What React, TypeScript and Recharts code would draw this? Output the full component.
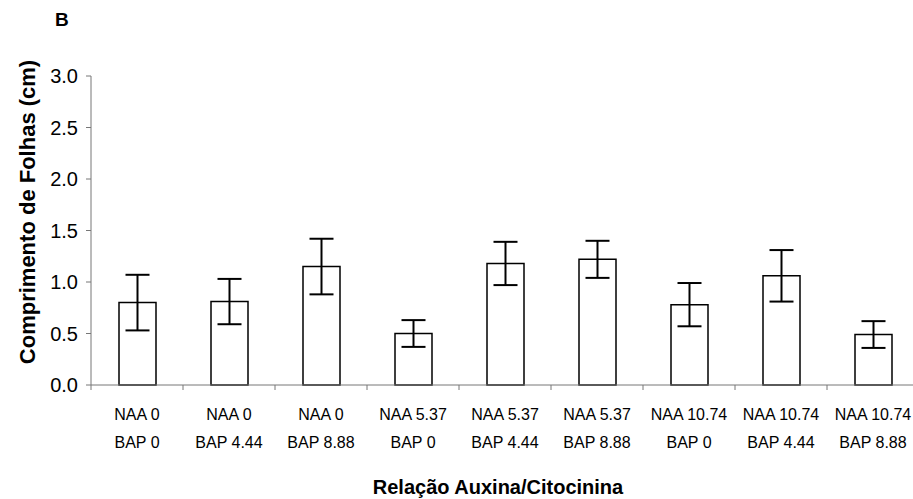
import React from "react";
import { BarChart, Bar, XAxis, YAxis, ErrorBar, Label } from "recharts";

const naaLevels = ["NAA 0", "NAA 0", "NAA 0", "NAA 5.37", "NAA 5.37", "NAA 5.37", "NAA 10.74", "NAA 10.74", "NAA 10.74"];
const bapLevels = ["BAP 0", "BAP 4.44", "BAP 8.88", "BAP 0", "BAP 4.44", "BAP 8.88", "BAP 0", "BAP 4.44", "BAP 8.88"];
const leafLength = [0.8, 0.81, 1.15, 0.5, 1.18, 1.22, 0.78, 1.06, 0.49];
const leafError = [0.27, 0.22, 0.27, 0.13, 0.21, 0.18, 0.21, 0.25, 0.13];
const yTicks = [0, 0.5, 1, 1.5, 2, 2.5, 3];

const data = naaLevels.map((naa, i) => ({
  name: `${naa}|${bapLevels[i]}`,
  value: leafLength[i],
  err: leafError[i],
}));

const FONT = "'Liberation Sans', Arial, Helvetica, sans-serif";
const AXIS = "#777";

const CategoryTick = (props: any) => {
  const { x, y, payload, index, width, visibleTicksCount } = props;
  const band = width && visibleTicksCount ? width / visibleTicksCount : 92;
  const [l1, l2] = String(payload.value).split("|");
  return (
    <g>
      <line x1={x - band / 2} x2={x - band / 2} y1={y} y2={y + 5} stroke={AXIS} />
      {index === visibleTicksCount - 1 && (
        <line x1={x + band / 2} x2={x + band / 2} y1={y} y2={y + 5} stroke={AXIS} />
      )}
      <text x={x} y={y + 34.5} textAnchor="middle" fontSize={16} fill="#000" fontFamily={FONT}>
        {l1}
      </text>
      <text x={x} y={y + 63} textAnchor="middle" fontSize={16} fill="#000" fontFamily={FONT}>
        {l2}
      </text>
    </g>
  );
};

export default function App() {
  return (
    <div style={{ position: "absolute", left: 0, top: 0, width: 913, height: 499, overflow: "hidden", background: "#fff", fontFamily: FONT }}>
      <div style={{ position: "absolute", left: 55, top: 9, fontSize: 19, fontWeight: "bold", color: "#000" }}>B</div>
      <BarChart width={920} height={499} data={data} margin={{ top: 76, right: 1, bottom: 0, left: 0 }}>
        <YAxis
          type="number"
          domain={[0, 3]}
          ticks={yTicks}
          tickFormatter={(v: number) => v.toFixed(1)}
          width={91}
          stroke={AXIS}
          tickSize={5}
          tickMargin={8}
          tick={{ fontSize: 20, fill: "#000", fontFamily: FONT }}
          interval={0}
        >
          <Label
            content={() => (
              <text
                x={35}
                y={212}
                transform="rotate(-90, 35, 212)"
                textAnchor="middle"
                fontSize={22}
                fontWeight="bold"
                fill="#000"
                fontFamily={FONT}
              >
                Comprimento de Folhas (cm)
              </text>
            )}
          />
        </YAxis>
        <XAxis
          dataKey="name"
          height={114}
          stroke={AXIS}
          tickLine={false}
          tickSize={0}
          tickMargin={0}
          interval={0}
          tick={<CategoryTick />}
        >
          <Label
            content={() => (
              <text x={498} y={494} textAnchor="middle" fontSize={20} fontWeight="bold" fill="#000" fontFamily={FONT}>
                Relação Auxina/Citocinina
              </text>
            )}
          />
        </XAxis>
        <Bar dataKey="value" fill="#fff" stroke="#000" strokeWidth={1.5} barSize={37} isAnimationActive={false}>
          <ErrorBar dataKey="err" width={12} stroke="#000" strokeWidth={2} />
        </Bar>
      </BarChart>
    </div>
  );
}
